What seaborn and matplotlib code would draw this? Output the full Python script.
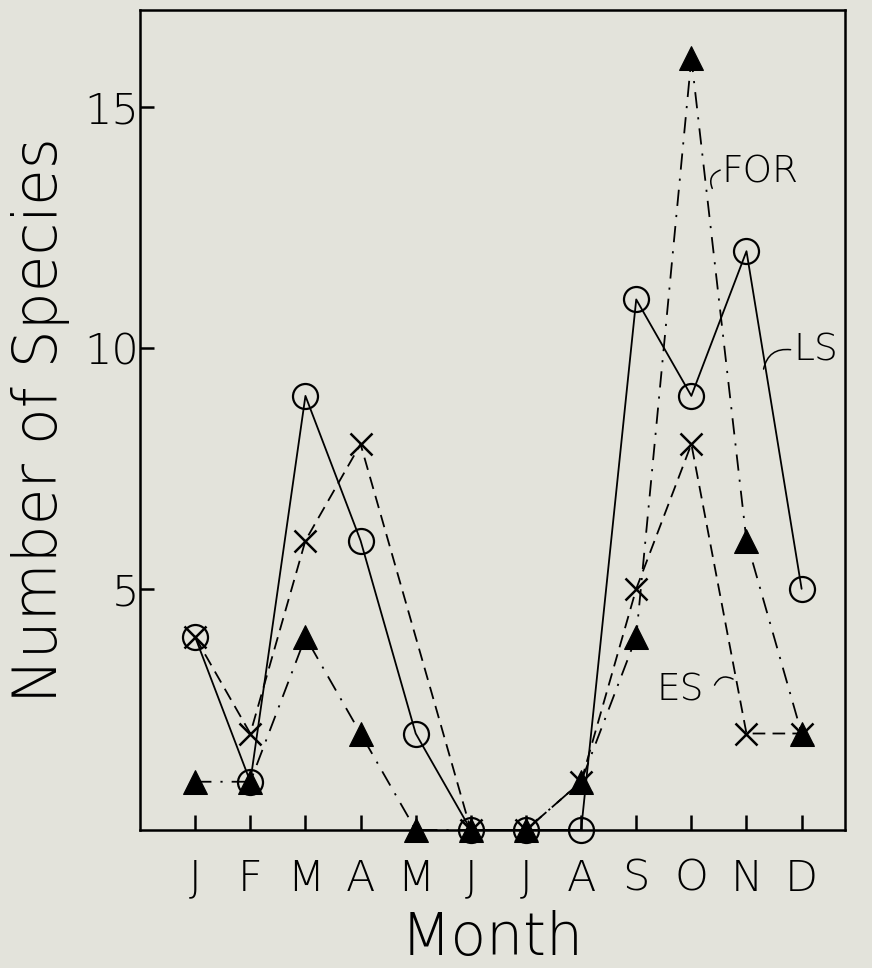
import numpy as np
import pandas as pd
import matplotlib
matplotlib.use("Agg")
import matplotlib.pyplot as plt
import seaborn as sns

months = ["J", "F", "M", "A", "M", "J", "J", "A", "S", "O", "N", "D"]
ls_counts = [4, 1, 9, 6, 2, 0, 0, 0, 11, 9, 12, 5]
es_counts = [4, 2, 6, 8, np.nan, 0, 0, 1, 5, 8, 2, 2]
for_counts = [1, 1, 4, 2, 0, 0, 0, 1, 4, 16, 6, 2]

bg = "#e3e3db"
sns.set_theme(style="white")
plt.rcParams["font.family"] = ["DejaVu Sans"]
plt.rcParams["font.weight"] = 200
plt.rcParams["axes.labelweight"] = 200

fig = plt.figure(figsize=(8.72, 9.68), dpi=100, facecolor=bg)
ax = fig.add_axes([0.1606, 0.1426, 0.808, 0.847])
ax.set_facecolor(bg)

idx = np.arange(len(months))
df = pd.DataFrame({"m": idx, "LS": ls_counts, "ES": es_counts, "FOR": for_counts})

sns.lineplot(data=df, x="m", y="FOR", ax=ax, color="black", lw=1.3,
             linestyle=(0, (9, 5, 1.2, 5)), marker="^", markersize=17,
             mfc="black", mec="black", clip_on=False, zorder=3)
sns.lineplot(data=df.dropna(), x="m", y="ES", ax=ax, color="black", lw=1.3,
             linestyle=(0, (7, 4)), marker="x", markersize=16, mew=1.8,
             mec="black", clip_on=False, zorder=4)
sns.lineplot(data=df, x="m", y="LS", ax=ax, color="black", lw=1.3,
             linestyle="-", marker="o", markersize=18, mfc="none",
             mec="black", mew=1.6, clip_on=False, zorder=5)

ax.set_xlim(-1, 11.78)
ax.set_ylim(0, 17)
ax.set_xticks(idx)
ax.set_xticklabels(months)
ax.set_yticks([5, 10, 15])
ax.tick_params(axis="x", direction="in", length=11, width=1.8, pad=20,
               labelsize=31, colors="black", bottom=True)
ax.tick_params(axis="y", direction="in", length=10, width=1.8, pad=1,
               labelsize=31, colors="black", left=True)
for s in ax.spines.values():
    s.set_color("black")
    s.set_linewidth(1.8)

ax.set_xlabel("Month", fontsize=42, labelpad=8, color="black", fontweight=200)
ax.set_ylabel("Number of Species", fontsize=43, labelpad=10, color="black",
              fontweight=200)

# curve labels with small squiggle leaders
ax.text(9.55, 13.65, "FOR", fontsize=27, va="center", ha="left", color="black")
ax.annotate("", xy=(9.4, 13.25), xytext=(9.57, 13.7),
            arrowprops=dict(arrowstyle="-", lw=1.1, color="black",
                            connectionstyle="arc3,rad=0.6"))
ax.text(10.85, 9.95, "LS", fontsize=27, va="center", ha="left", color="black")
ax.annotate("", xy=(10.3, 9.5), xytext=(10.85, 9.95),
            arrowprops=dict(arrowstyle="-", lw=1.1, color="black",
                            connectionstyle="arc3,rad=0.5"))
ax.text(8.37, 2.9, "ES", fontsize=27, va="center", ha="left", color="black")
ax.annotate("", xy=(9.8, 3.1), xytext=(9.4, 2.95),
            arrowprops=dict(arrowstyle="-", lw=1.1, color="black",
                            connectionstyle="arc3,rad=-0.6"))

fig.savefig("out.png", dpi=100, facecolor=bg)
